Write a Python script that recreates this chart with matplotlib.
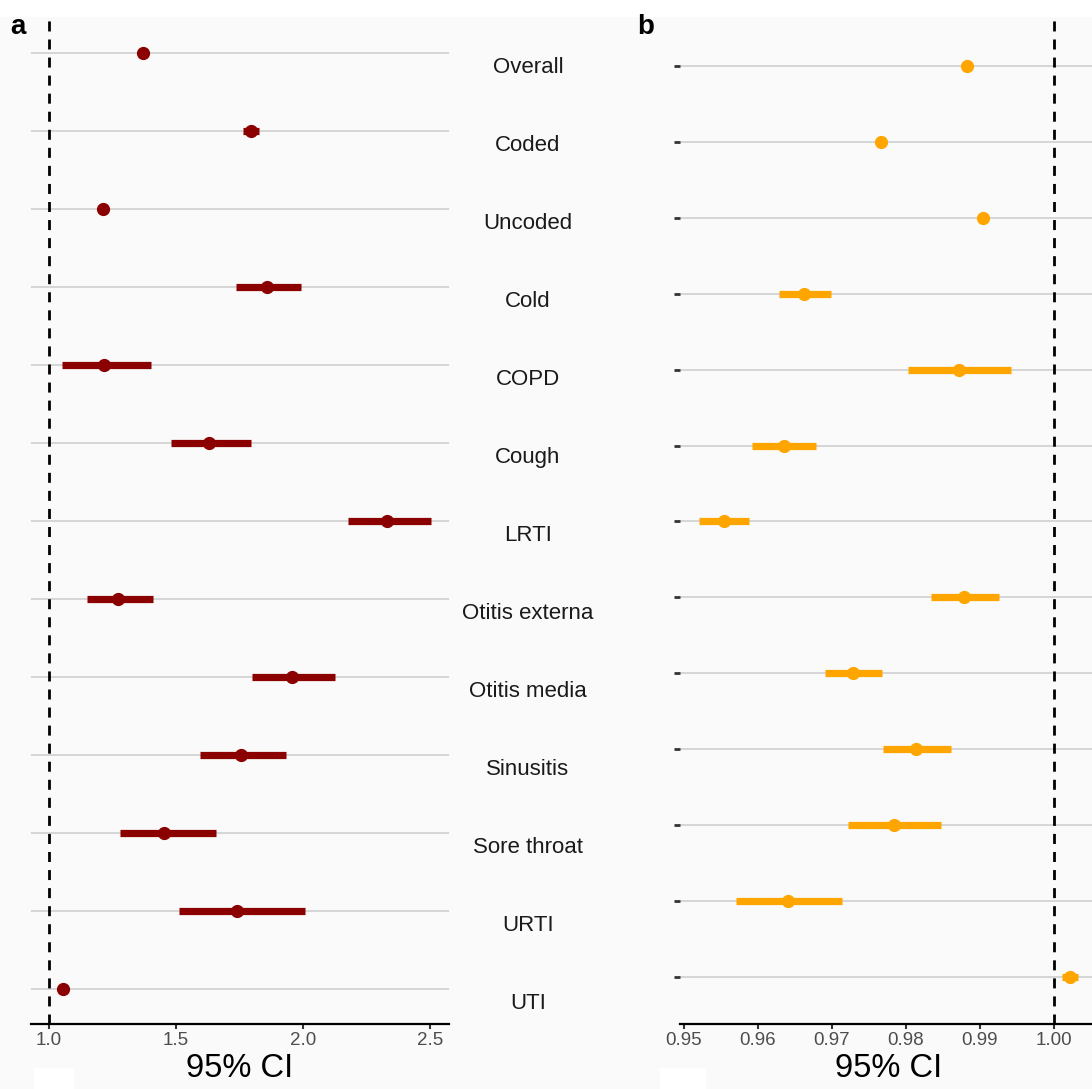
import matplotlib
matplotlib.use("Agg")
import matplotlib.pyplot as plt
from matplotlib.patches import Rectangle

plt.rcParams['font.family'] = ['Liberation Sans', 'DejaVu Sans']

# outcome categories, top to bottom
categories = ["Overall", "Coded", "Uncoded", "Cold", "COPD", "Cough", "LRTI",
              "Otitis externa", "Otitis media", "Sinusitis", "Sore throat",
              "URTI", "UTI"]

# panel a: estimate and 95% CI
a_est = [1.372, 1.795, 1.212, 1.857, 1.215, 1.630, 2.332, 1.272, 1.958, 1.755, 1.453, 1.742, 1.055]
a_lo = [1.362, 1.765, 1.202, 1.735, 1.051, 1.482, 2.177, 1.151, 1.799, 1.593, 1.280, 1.512, 1.045]
a_hi = [1.382, 1.825, 1.222, 1.991, 1.403, 1.797, 2.502, 1.409, 2.126, 1.935, 1.656, 2.009, 1.065]

# panel b: estimate and 95% CI
b_est = [0.9882, 0.9766, 0.9904, 0.9662, 0.9872, 0.9635, 0.9554, 0.9879, 0.9729, 0.9814, 0.9784, 0.9641, 1.0022]
b_lo = [0.9878, 0.9762, 0.9900, 0.9628, 0.9803, 0.9592, 0.9520, 0.9834, 0.9691, 0.9769, 0.9721, 0.9570, 1.0011]
b_hi = [0.9886, 0.9770, 0.9908, 0.9698, 0.9942, 0.9679, 0.9588, 0.9926, 0.9767, 0.9861, 0.9848, 0.9713, 1.0033]

a_ticks = [1.0, 1.5, 2.0, 2.5]
b_ticks = [0.95, 0.96, 0.97, 0.98, 0.99, 1.00]

W, H = 1092, 1089
fig = plt.figure(figsize=(W / 100, H / 100), dpi=100, facecolor='#fafafa')
# white strip on top and the two small white boxes at the bottom
fig.patches.append(Rectangle((0, 1 - 16 / H), 1, 16 / H, transform=fig.transFigure,
                             color='white', zorder=0))
for x0, w in [(34, 39), (660, 45)]:
    fig.patches.append(Rectangle((x0 / W, 0), w / W, 21 / H, transform=fig.transFigure,
                                 color='white', zorder=0))

bottom = (H - 1024) / H
height = 1006 / H
ax_a = fig.add_axes([31 / W, bottom, 418 / W, height])
ax_b = fig.add_axes([680 / W, bottom, 418 / W, height])

rows = list(range(len(categories), 0, -1))


def style(ax, est, lo, hi, color, xlim, ylim, ticks, fmt, ytick_len):
    ax.set_facecolor('#fafafa')
    ax.set_yticks(rows)
    ax.set_yticklabels([])
    ax.yaxis.grid(True, color='#cccccc', linewidth=1.1)
    ax.set_axisbelow(True)
    ax.tick_params(axis='y', length=ytick_len, width=2, color='#333333')
    ax.axvline(1.0, color='black', linestyle=(0, (3.6, 2.9)), linewidth=2, zorder=1)
    ax.hlines(rows, lo, hi, color=color, linewidth=5.2, capstyle='butt', zorder=3)
    ax.plot(est, rows, 'o', color=color, markersize=8.5, zorder=4)
    ax.set_xlim(*xlim)
    ax.set_ylim(*ylim)
    ax.set_xticks(ticks)
    ax.set_xticklabels([fmt % t for t in ticks])
    ax.tick_params(axis='x', length=3.5, width=1.5, color='#333333', labelsize=13.5,
                   labelcolor='#4d4d4d', pad=2)
    for s in ['top', 'right', 'left']:
        ax.spines[s].set_visible(False)
    ax.spines['bottom'].set_linewidth(1.6)
    ax.set_xlabel('95% CI', fontsize=23.5)
    ax.xaxis.set_label_coords(0.5, -0.0285)


style(ax_a, a_est, a_lo, a_hi, '#8b0000', (0.9291, 2.5748), (0.551, 13.449),
      a_ticks, '%.1f', 0)
style(ax_b, b_est, b_lo, b_hi, '#ffa500', (0.94946, 1.00595), (0.381, 13.632),
      b_ticks, '%.2f', 4.5)

# row labels in the gap between the panels
for name, r in zip(categories, rows):
    ax_a.text((528 - 31) / 418, r - 0.19, name, transform=ax_a.get_yaxis_transform(),
              ha='center', va='center', fontsize=16, color='#1a1a1a', clip_on=False)

fig.text(10 / W, 1 - 34 / H, 'a', fontsize=20, fontweight='bold', va='baseline')
fig.text(637 / W, 1 - 34 / H, 'b', fontsize=20, fontweight='bold', va='baseline')

fig.savefig('out.png', dpi=100, facecolor=fig.get_facecolor())
